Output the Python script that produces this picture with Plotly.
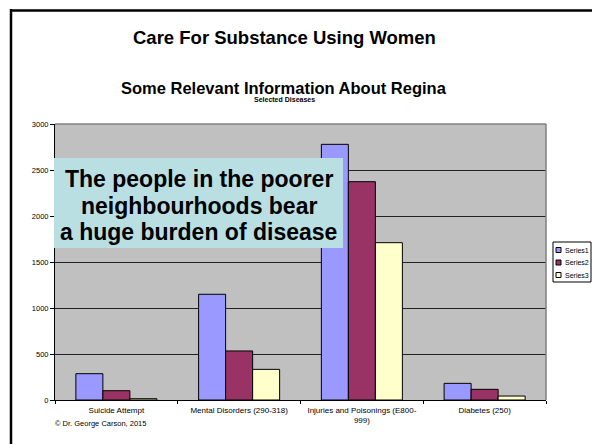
import plotly.graph_objects as go

categories = ["Suicide Attempt", "Mental Disorders (290-318)", "Injuries and Poisonings (E800-999)", "Diabetes (250)"]
tick_labels = ["Suicide Attempt", "Mental Disorders (290-318)", "Injuries and Poisonings (E800-<br>999)", "Diabetes (250)"]
series_names = ["Series1", "Series2", "Series3"]
series1 = [286, 1149, 2779, 181]
series2 = [101, 533, 2373, 116]
series3 = [14, 333, 1710, 43]
series_values = [series1, series2, series3]
colors = ["#9999FF", "#993366", "#FFFFCC"]
y_ticks = [0, 500, 1000, 1500, 2000, 2500, 3000]
callout_lines = ["The people in the poorer", "neighbourhoods bear", "a huge burden of disease"]

W, H = 592, 444
L, R, T, B = 55, 546, 124, 400
pw, ph = R - L, B - T

def px(x):
    return (x - L) / pw

def py(y):
    return (B - y) / ph

FONT = "Arial, Liberation Sans, sans-serif"

fig = go.Figure()
for name, vals, c in zip(series_names, series_values, colors):
    fig.add_trace(go.Bar(x=categories, y=vals, name=name, marker=dict(color=c, line=dict(color="#000000", width=1)),
                         showlegend=False))

annotations = [
    dict(text="<b>Care For Substance Using Women</b>", x=px(284), y=py(38), font=dict(size=18.5, color="#000")),
    dict(text="<b>Some Relevant Information About Regina</b>", x=px(284), y=py(88), font=dict(size=16.5, color="#000")),
    dict(text="<b>Selected Diseases</b>", x=px(284), y=py(99.5), font=dict(size=7, color="#000")),
    dict(text="© Dr. George Carson, 2015", x=px(53), y=py(423), xanchor="left", font=dict(size=7.5, color="#000")),
]
for line, ly in zip(callout_lines, [179, 205.5, 232]):
    annotations.append(dict(text="<b>" + line + "</b>", x=px(198.5), y=py(ly), font=dict(size=23, color="#000")))
for a in annotations:
    a.setdefault("xanchor", "center")
    a.setdefault("yanchor", "middle")
    a.update(xref="paper", yref="paper", showarrow=False)
    a["font"]["family"] = FONT

shapes = [
    # slide frame
    dict(type="line", xref="paper", yref="paper", x0=px(11), x1=px(11), y0=py(9), y1=py(450), line=dict(color="#000", width=2.5)),
    dict(type="line", xref="paper", yref="paper", x0=px(10), x1=px(600), y0=py(10.5), y1=py(10.5), line=dict(color="#000", width=2.5)),
    # plot area top/right border
    dict(type="line", xref="paper", yref="paper", x0=0, x1=1, y0=1, y1=1, line=dict(color="#808080", width=1.5)),
    dict(type="line", xref="paper", yref="paper", x0=1, x1=1, y0=0, y1=1, line=dict(color="#808080", width=1.5)),
    # callout box
    dict(type="rect", xref="paper", yref="paper", layer="above", x0=px(54), x1=px(343), y0=py(158), y1=py(248),
         fillcolor="#B9DFE3", line=dict(width=0)),
    # legend box
    dict(type="rect", xref="paper", yref="paper", x0=px(553), x1=px(591), y0=py(242), y1=py(282),
         fillcolor="#FFFFFF", line=dict(color="#000", width=1)),
]
leg_y = [250, 262.5, 275]
for name, c, ly in zip(series_names, colors, leg_y):
    shapes.append(dict(type="rect", xref="paper", yref="paper", x0=px(556), x1=px(561), y0=py(ly - 2.5), y1=py(ly + 2.5),
                       fillcolor=c, line=dict(color="#000", width=1)))
    annotations.append(dict(text=name, x=px(563), y=py(ly), xref="paper", yref="paper", xanchor="left", yanchor="middle",
                            showarrow=False, font=dict(size=7, color="#000", family=FONT)))

fig.update_layout(
    width=W, height=H,
    margin=dict(l=L, r=W - R, t=T, b=H - B),
    paper_bgcolor="#FFFFFF", plot_bgcolor="#C0C0C0",
    barmode="group", bargap=0.34, bargroupgap=0,
    font=dict(family=FONT, size=7, color="#000"),
    annotations=annotations, shapes=shapes,
    showlegend=False,
)
fig.update_xaxes(tickmode="array", tickvals=categories, ticktext=tick_labels, tickson="boundaries",
                 ticks="outside", ticklen=3, tickcolor="#000", showline=True, linecolor="#000", linewidth=1,
                 showgrid=False, tickfont=dict(size=8, color="#000"), ticklabelstandoff=2)
fig.update_yaxes(range=[0, 3000], tickvals=y_ticks, ticks="outside", ticklen=4, tickcolor="#000",
                 showline=True, linecolor="#000", linewidth=1, showgrid=True, gridcolor="#222", gridwidth=1,
                 zeroline=False, tickfont=dict(size=7.5, color="#000"))

fig.write_html("out.html")
